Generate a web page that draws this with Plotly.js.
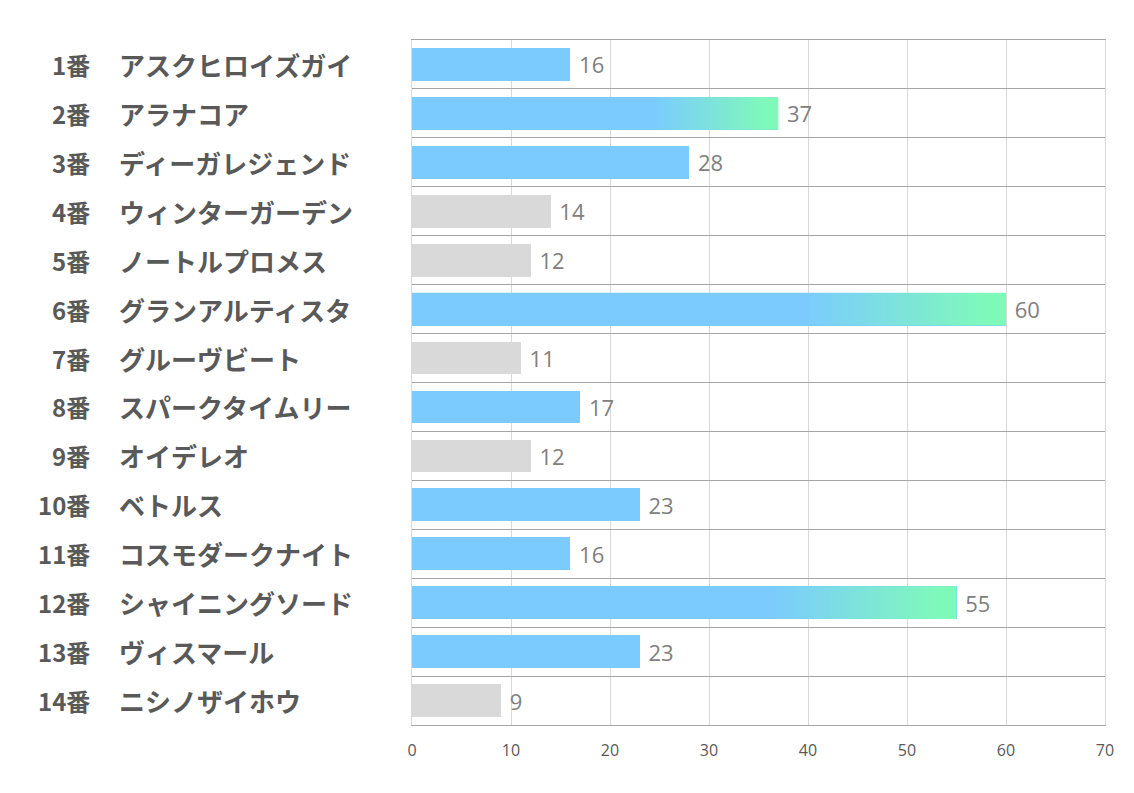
<!DOCTYPE html>
<html><head><meta charset="utf-8">
<script src="https://cdn.plot.ly/plotly-3.0.1.min.js"></script>
<style>body{margin:0;background:#fff}#c{width:1134px;height:793px}</style>
</head><body><div id="c"></div>
<script>
const numbers = ["1番","2番","3番","4番","5番","6番","7番","8番","9番","10番","11番","12番","13番","14番"];
const names = ["アスクヒロイズガイ","アラナコア","ディーガレジェンド","ウィンターガーデン","ノートルプロメス","グランアルティスタ","グルーヴビート","スパークタイムリー","オイデレオ","ベトルス","コスモダークナイト","シャイニングソード","ヴィスマール","ニシノザイホウ"];
const values = [16,37,28,14,12,60,11,17,12,23,16,55,23,9];
const highlight = [true,true,true,false,false,true,false,true,false,true,true,true,true,false];
const gradientBars = [false,true,false,false,false,true,false,false,false,false,false,true,false,false];

const BLUE = "#7BCBFE", GRAY = "#D9D9D9", GREEN = "#7FF9BA";
const W = 0.67;
const idx = values.map((v,i)=>i);

const traces = [{
  type:"bar", orientation:"h", x:values, y:idx, width:W,
  marker:{color: highlight.map(h=>h?BLUE:GRAY), line:{width:0}},
  texttemplate:" %{x}", textposition:"outside", cliponaxis:false, constraintext:"none",
  textfont:{family:"Open Sans, Noto Sans CJK JP", size:22, color:"#808080"},
  hoverinfo:"skip", showlegend:false
}];
idx.forEach(i=>{
  if(!gradientBars[i]) return;
  const v = values[i];
  traces.push({
    type:"scatter", mode:"none", x:[0,v,v,0,0], y:[i-W/2,i-W/2,i+W/2,i+W/2,i-W/2],
    fill:"toself", fillgradient:{type:"horizontal", colorscale:[[0,BLUE],[0.66,BLUE],[0.97,GREEN],[1,GREEN]]},
    hoverinfo:"skip", showlegend:false
  });
});

const annotations = [];
idx.forEach(i=>{
  annotations.push({xref:"paper", yref:"y", x:-0.4618, y:i, xanchor:"right", yanchor:"middle", showarrow:false,
    text:numbers[i], font:{family:"Noto Sans CJK JP", size:24, color:"#595959", weight:"bold"}});
  annotations.push({xref:"paper", yref:"y", x:-0.4257, y:i, xanchor:"left", yanchor:"middle", showarrow:false,
    text:names[i], font:{family:"Noto Sans CJK JP", size:26, color:"#595959", weight:"bold"}});
});

const layout = {
  width:1134, height:793, margin:{l:412, r:29, t:40, b:68},
  paper_bgcolor:"#fff", plot_bgcolor:"#fff",
  xaxis:{range:[0,70], dtick:10, tick0:0, showgrid:true, gridcolor:"#D9D9D9", gridwidth:1, zeroline:false,
    showline:true, mirror:true, linecolor:"#A6A6A6", linewidth:1,
    ticks:"outside", ticklen:11, tickcolor:"rgba(0,0,0,0)",
    tickfont:{family:"Open Sans", size:16, color:"#595959"}, fixedrange:true},
  yaxis:{range:[13.5,-0.5], tick0:-0.5, dtick:1, showgrid:true, gridcolor:"#A6A6A6", gridwidth:1,
    zeroline:false, showticklabels:false, ticks:"", showline:true, mirror:true, linecolor:"#D9D9D9", linewidth:1,
    fixedrange:true},
  annotations:annotations, bargap:0
};
Plotly.newPlot("c", traces, layout, {displayModeBar:false, staticPlot:true});
</script></body></html>
